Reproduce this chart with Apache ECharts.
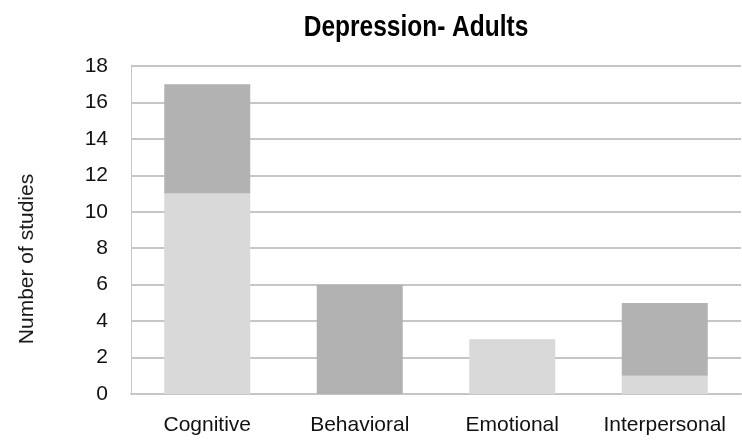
<!DOCTYPE html>
<html>
<head>
<meta charset="utf-8">
<script src="https://cdn.jsdelivr.net/npm/echarts@6/dist/echarts.min.js"></script>
<style>
  html, body { margin: 0; padding: 0; background: #ffffff; }
  #chart { width: 742px; height: 446px; }
</style>
</head>
<body>
<div id="chart"></div>
<script>
// Studies per intervention focus, split into two stacked groups
const categories = ['Cognitive', 'Behavioral', 'Emotional', 'Interpersonal'];
const lightGroup = [11, 0, 3, 1];
const darkGroup = [6, 6, 0, 4];
const yTicks = { min: 0, max: 18, interval: 2 };

const baseFont = '"Liberation Sans", Arial, sans-serif';

const chart = echarts.init(document.getElementById('chart'), null, { renderer: 'canvas' });

chart.setOption({
  animation: false,
  backgroundColor: '#ffffff',
  grid: { left: 131, right: 1, top: 66, bottom: 52, containLabel: false },
  graphic: [
    {
      // chart title, drawn slightly tall
      type: 'text',
      x: 416,
      y: 28,
      scaleY: 1.2,
      style: {
        text: 'Depression- Adults',
        font: 'bold 24.5px ' + baseFont,
        fill: '#000000',
        align: 'center',
        verticalAlign: 'middle'
      }
    },
    {
      // value axis caption
      type: 'text',
      x: 27,
      y: 259,
      rotation: Math.PI / 2,
      style: {
        text: 'Number of studies',
        font: '21px ' + baseFont,
        fill: '#1a1a1a',
        align: 'center',
        verticalAlign: 'middle'
      }
    }
  ],
  xAxis: {
    type: 'category',
    data: categories,
    axisLine: { show: true, lineStyle: { color: '#c6c6c6', width: 2 } },
    axisTick: { show: false },
    axisLabel: {
      interval: 0,
      margin: 21,
      color: '#111111',
      fontFamily: baseFont,
      fontSize: 21
    }
  },
  yAxis: {
    type: 'value',
    min: yTicks.min,
    max: yTicks.max,
    interval: yTicks.interval,
    axisLine: { show: true, lineStyle: { color: '#c6c6c6', width: 1 } },
    axisTick: { show: false },
    splitLine: { show: true, lineStyle: { color: '#c6c6c6', width: 2 } },
    axisLabel: {
      margin: 23,
      color: '#111111',
      fontFamily: baseFont,
      fontSize: 21
    }
  },
  series: [
    {
      name: 'light',
      type: 'bar',
      stack: 'total',
      data: lightGroup,
      barWidth: 86,
      itemStyle: { color: '#d9d9d9' }
    },
    {
      name: 'dark',
      type: 'bar',
      stack: 'total',
      data: darkGroup,
      barWidth: 86,
      itemStyle: { color: '#b2b2b2' }
    }
  ]
});
</script>
</body>
</html>
